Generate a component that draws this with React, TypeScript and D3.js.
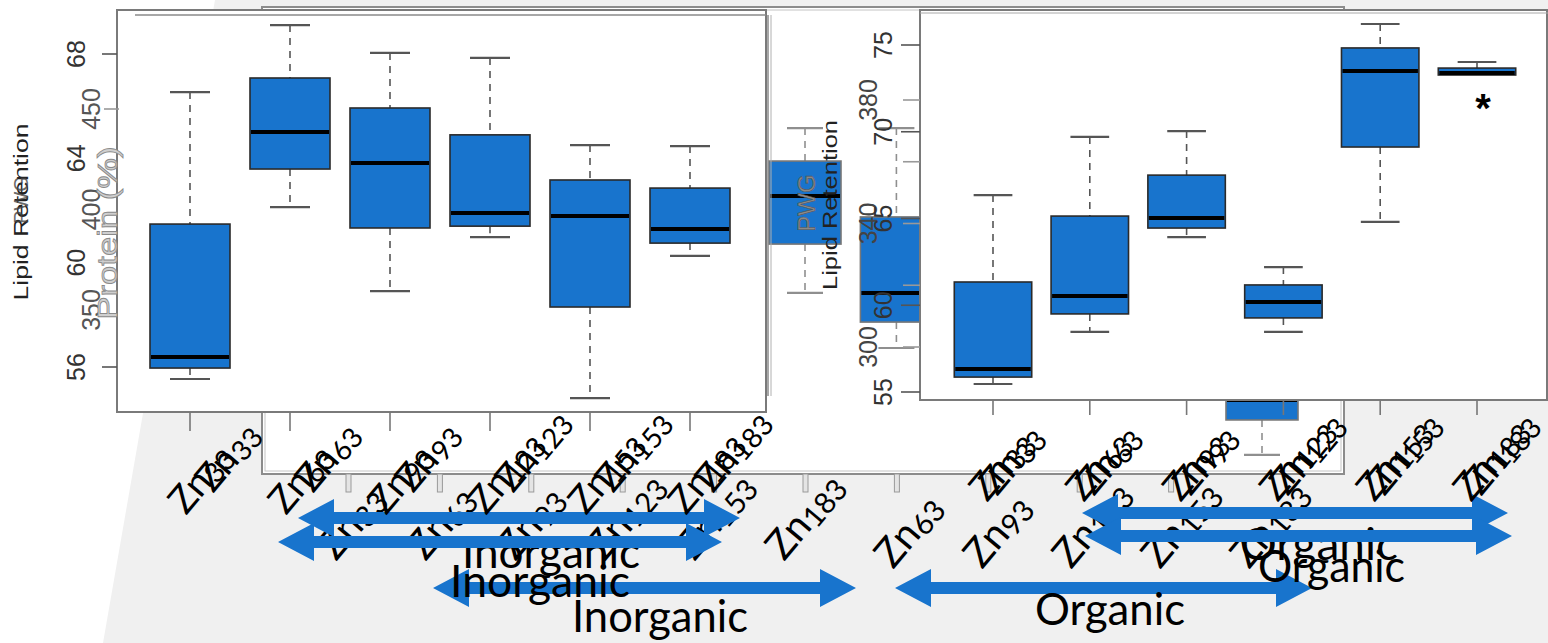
import React from 'react';
import * as d3 from 'd3';

// zinc levels (subscripts on the x labels)
const groups = ['33', '63', '93', '123', '153', '183'];

// left panel: inorganic Zn, lipid retention (%)
const inorgMin = [55.54, 62.13, 58.91, 60.98, 54.81, 60.26];
const inorgQ1 = [55.96, 63.59, 61.33, 61.4, 58.3, 60.75];
const inorgMed = [56.38, 65.01, 63.82, 61.9, 61.79, 61.29];
const inorgQ3 = [61.48, 67.08, 65.93, 64.9, 63.17, 62.86];
const inorgMax = [66.54, 69.11, 68.04, 67.85, 64.51, 64.47];

// right panel: organic Zn
const orgMin = [55.46, 58.46, 63.93, 58.46, 64.8, 73.27];
const orgQ1 = [55.86, 59.5, 64.45, 59.27, 69.12, 73.27];
const orgMed = [56.33, 60.53, 65.03, 60.19, 73.5, 73.39];
const orgQ3 = [61.34, 65.14, 67.5, 61.17, 74.83, 73.67];
const orgMax = [66.35, 69.7, 70.04, 62.2, 76.21, 74.02];

// boxes of the slide showing through underneath (PWG scale)
const ghostSlot = [5, 6, 10];
const ghostMin = [358.5, 331.1, 277.9];
const ghostQ1 = [382.8, 344.0, 295.3];
const ghostMed = [406.7, 358.5, 305.2];
const ghostQ3 = [424.1, 396.3, 315.2];
const ghostMax = [440.5, 440.5, 320];
const ghostTickSlots = [0, 1, 2, 3, 4, 5, 6, 7, 8, 9];

const leftTicks = [56, 60, 64, 68];
const leftTickMarks = [56, 68];
const leftGhostTicks = [350, 400, 450];
const rightTicks = [55, 60, 65, 70, 75];
const rightGhostTicks = [300, 340, 380];
const rightGhostMarks = [300, 320, 340, 360, 380];

const lowerLeftSubs = ['33', '63', '93', '123', '153', '183'];
const lowerRightSubs = ['63', '93', '123', '153', '183'];

const BLUE = '#1874CD';
const SANS = "'Liberation Sans', Arial, sans-serif";
const SLIDE = "Lato, 'Open Sans', sans-serif";

type Stat = { key: string; cx: number; lo: number; q1: number; med: number; q3: number; hi: number };

const Box = ({ s, y, w, faint }: { s: Stat; y: (v: number) => number; w: number; faint?: boolean }) => {
  const capW = w / 2;
  const wc = faint ? '#8f8f8f' : '#555';
  return (
    <g>
      <line x1={s.cx} x2={s.cx} y1={y(s.hi)} y2={y(s.q3)} stroke={wc} strokeWidth={1.6} strokeDasharray="7 6" />
      <line x1={s.cx - capW / 2} x2={s.cx + capW / 2} y1={y(s.hi)} y2={y(s.hi)} stroke={wc} strokeWidth={2.2} />
      {s.lo < s.q1 && (
        <>
          <line x1={s.cx} x2={s.cx} y1={y(s.q1)} y2={y(s.lo)} stroke={wc} strokeWidth={1.6} strokeDasharray="7 6" />
          <line x1={s.cx - capW / 2} x2={s.cx + capW / 2} y1={y(s.lo)} y2={y(s.lo)} stroke={wc} strokeWidth={2.2} />
        </>
      )}
      <rect x={s.cx - w / 2} y={y(s.q3)} width={w} height={y(s.q1) - y(s.q3)} fill={BLUE} stroke={faint ? '#777' : '#2a2a2a'} strokeWidth={1.6} />
      <line x1={s.cx - w / 2 + 1} x2={s.cx + w / 2 - 1} y1={y(s.med)} y2={y(s.med)} stroke="#000" strokeWidth={4} />
    </g>
  );
};

// "Zn" with a subscript, written up a steep slope
const ZnLabel = ({ sub, x, y, size }: { sub: string; x: number; y: number; size: number }) => (
  <g transform={`translate(${x},${y}) rotate(-50)`}>
    <text x={0} y={0} fontFamily={SLIDE} fontSize={size} fill="#000">
      Zn
      <tspan fontSize={size * 0.74} dy={size * 0.1}>{sub}</tspan>
    </text>
  </g>
);

const arrowPath = (x0: number, x1: number, y: number) => {
  const t = 6, hh = 19, hl = 36;
  return `M${x0},${y} L${x0 + hl},${y - hh} L${x0 + hl},${y - t} L${x1 - hl},${y - t} L${x1 - hl},${y - hh} L${x1},${y} L${x1 - hl},${y + hh} L${x1 - hl},${y + t} L${x0 + hl},${y + t} L${x0 + hl},${y + hh} Z`;
};

const App = () => {
  const W = 1548, H = 643;

  // left panel
  const xL = d3.scaleBand().domain(groups).range([140, 740]).paddingInner(0.2).paddingOuter(0.1);
  const yL = d3.scaleLinear().domain([56, 68]).range([367, 54]);
  const yLg = d3.scaleLinear().domain([350, 450]).range([310, 109]);
  // right panel
  const xR = d3.scaleBand().domain(groups).range([944.6, 1525.4]).paddingInner(0.2).paddingOuter(0.1);
  const yR = d3.scaleLinear().domain([55, 75]).range([392, 45]);
  const yRg = d3.scaleLinear().domain([300, 380]).range([347, 100]);
  // underlying slide
  const xG = d3.scaleLinear().domain([0, 10]).range([348, 1262]);
  const lowL = d3.scaleLinear().domain([0, 5]).range([336, 784]);
  const lowR = d3.scaleLinear().domain([0, 4]).range([893, 1249]);

  const cL = (g: string) => (xL(g) as number) + xL.bandwidth() / 2;
  const cR = (g: string) => (xR(g) as number) + xR.bandwidth() / 2;

  const leftStats: Stat[] = groups.map((g, i) => ({ key: g, cx: cL(g), lo: inorgMin[i], q1: inorgQ1[i], med: inorgMed[i], q3: inorgQ3[i], hi: inorgMax[i] }));
  const rightStats: Stat[] = groups.map((g, i) => ({ key: g, cx: cR(g), lo: orgMin[i], q1: orgQ1[i], med: orgMed[i], q3: orgQ3[i], hi: orgMax[i] }));
  const ghostStats: Stat[] = ghostSlot.map((s, i) => ({ key: 'g' + s, cx: xG(s), lo: ghostMin[i], q1: ghostQ1[i], med: ghostMed[i], q3: ghostQ3[i], hi: ghostMax[i] }));

  const rotLabel = (txt: string | number, x: number, y: number, size: number, props: any = {}) => (
    <text key={`${txt}-${x}-${y}`} transform={`translate(${x},${y}) rotate(-90)`} textAnchor="middle" fontFamily={SANS} fontSize={size} {...props}>
      {txt}
    </text>
  );

  return (
    <svg width={W} height={H} style={{ position: 'absolute', left: 0, top: 0, background: '#fff' }}>
      {/* slide background */}
      <polygon points={`215,0 ${W},0 ${W},${H} 103,${H}`} fill="#f0f0f0" />
      {/* frame of the slide underneath */}
      <rect x={262} y={7} width={1082} height={467} fill="#fff" stroke="#8c8c8c" strokeWidth={2} />
      <rect x={265} y={10} width={1076} height={461} fill="none" stroke="#c4c4c4" strokeWidth={1} />
      {ghostTickSlots.map((s) => (
        <rect key={'gt' + s} x={xG(s) - 2} y={474} width={5} height={18} fill="#e4e4e4" stroke="#9a9a9a" strokeWidth={1} />
      ))}

      {/* ghost boxes */}
      {ghostStats.map((s) => (
        <Box key={s.key} s={s} y={yLg} w={72} faint />
      ))}
      <text transform="translate(815,203) rotate(-90)" textAnchor="middle" fontFamily={SANS} fontSize={24} fill="#8a8a8a" stroke="#555" strokeWidth={0.6}>PWG</text>
      <text transform="translate(837,205) rotate(-90)" textAnchor="middle" fontFamily={SANS} fontSize={20} textLength={170} lengthAdjust="spacingAndGlyphs" fill="#222">Lipid Retention</text>

      {/* left panel */}
      <rect x={117} y={10} width={649} height={402} fill="#fff" stroke="#7a7a7a" strokeWidth={2} />
      <line x1={135} x2={766} y1={15} y2={15} stroke="#8a8a8a" strokeWidth={1.5} />
      <line x1={768} x2={768} y1={15} y2={396} stroke="#8a8a8a" strokeWidth={1.5} />
      <line x1={771} x2={771} y1={15} y2={396} stroke="#b0b0b0" strokeWidth={1} />
      {leftTickMarks.map((t) => (
        <line key={'lt' + t} x1={102} x2={117} y1={yL(t)} y2={yL(t)} stroke="#555" strokeWidth={1.6} />
      ))}
      <line x1={104} x2={119} y1={yLg(450)} y2={yLg(450)} stroke="#999" strokeWidth={1.6} />
      {leftGhostTicks.map((t) => rotLabel(t, 100, yLg(t), 25, { fill: '#555' }))}
      {leftTicks.map((t) => rotLabel(t, 85, yL(t), 25, { fill: '#333' }))}
      {groups.map((g) => (
        <line key={'lx' + g} x1={cL(g)} x2={cL(g)} y1={412} y2={431} stroke="#777" strokeWidth={1.6} />
      ))}
      {leftStats.map((s) => (
        <Box key={'l' + s.key} s={s} y={yL} w={xL.bandwidth()} />
      ))}

      {/* y titles on the left */}
      <text transform="translate(117,233) rotate(-90)" textAnchor="middle" fontFamily={SANS} fontSize={28} textLength={173} lengthAdjust="spacingAndGlyphs" fill="#cfcfcf" stroke="#8a8a8a" strokeWidth={0.8}>Protein (%)</text>
      <text transform="translate(28,212) rotate(-90)" textAnchor="middle" fontFamily={SANS} fontSize={20} textLength={177} lengthAdjust="spacingAndGlyphs" fill="#222">Lipid Retention</text>
      <text transform="translate(28,200) rotate(-90)" textAnchor="middle" fontFamily={SANS} fontSize={20} fill="#444" opacity={0.8}>PWG</text>

      {/* right panel */}
      <rect x={920} y={10} width={627} height={390} fill="#fff" stroke="#7a7a7a" strokeWidth={2} />
      <line x1={920} x2={W} y1={13} y2={13} stroke="#a8a8a8" strokeWidth={1} />
      {rightTicks.map((t) => (
        <line key={'rt' + t} x1={901} x2={920} y1={yR(t)} y2={yR(t)} stroke="#555" strokeWidth={1.6} />
      ))}
      {rightGhostMarks.map((t) => (
        <line key={'rg' + t} x1={903} x2={920} y1={yRg(t)} y2={yRg(t)} stroke="#999" strokeWidth={1.6} />
      ))}
      {rightGhostTicks.map((t) => rotLabel(t, 877, yRg(t), 25, { fill: '#444' }))}
      {rightTicks.map((t) => rotLabel(t, 892, yR(t), 25, { fill: '#333' }))}
      {groups.map((g) => (
        <line key={'rx' + g} x1={cR(g)} x2={cR(g)} y1={400} y2={415} stroke="#777" strokeWidth={1.6} />
      ))}
      {rightStats.map((s) => (
        <Box key={'r' + s.key} s={s} y={yR} w={xR.bandwidth()} />
      ))}
      <text x={cR('183') + 6} y={122} textAnchor="middle" fontFamily={SANS} fontWeight="bold" fontSize={40} fill="#000">*</text>

      {/* labels of the slide underneath */}
      {lowerLeftSubs.map((s, i) => (
        <ZnLabel key={'ll' + i} sub={s} x={lowL(i)} y={562} size={40} />
      ))}
      {lowerRightSubs.map((s, i) => (
        <ZnLabel key={'lr' + i} sub={s} x={lowR(i)} y={570} size={40} />
      ))}

      {/* upper group names, partly covered */}
      <text x={462} y={568} fontFamily={SLIDE} fontSize={44} textLength={178} lengthAdjust="spacingAndGlyphs" fill="#000">Inorganic</text>
      <text x={1240} y={560} fontFamily={SLIDE} fontSize={44} textLength={158} lengthAdjust="spacingAndGlyphs" fill="#000">Organic</text>

      {/* arrows */}
      <path d={arrowPath(298, 740, 518)} fill={BLUE} />
      <path d={arrowPath(278, 722, 542)} fill={BLUE} />
      <path d={arrowPath(433, 856, 588)} fill={BLUE} />
      <path d={arrowPath(1082, 1508, 513)} fill={BLUE} />
      <path d={arrowPath(1085, 1512, 536)} fill={BLUE} />
      <path d={arrowPath(895, 1312, 588)} fill={BLUE} />

      <text x={450} y={597} fontFamily={SLIDE} fontSize={44} textLength={180} lengthAdjust="spacingAndGlyphs" fill="#000">Inorganic</text>
      <text x={572} y={632} fontFamily={SLIDE} fontSize={44} textLength={176} lengthAdjust="spacingAndGlyphs" fill="#000">Inorganic</text>
      <text x={1258} y={582} fontFamily={SLIDE} fontSize={44} textLength={147} lengthAdjust="spacingAndGlyphs" fill="#000">Organic</text>
      <text x={1035} y={625} fontFamily={SLIDE} fontSize={44} textLength={150} lengthAdjust="spacingAndGlyphs" fill="#000">Organic</text>

      {/* axis labels, doubled */}
      {groups.map((g) => (
        <g key={'al' + g}>
          <ZnLabel sub={g} x={cL(g) - 4} y={516} size={38} />
          <ZnLabel sub={g} x={cL(g) + 23} y={494} size={38} />
        </g>
      ))}
      {groups.map((g) => (
        <g key={'ar' + g}>
          <ZnLabel sub={g} x={cR(g) - 6} y={503} size={38} />
          <ZnLabel sub={g} x={cR(g) + 4} y={497} size={38} />
        </g>
      ))}
    </svg>
  );
};

export default App;
